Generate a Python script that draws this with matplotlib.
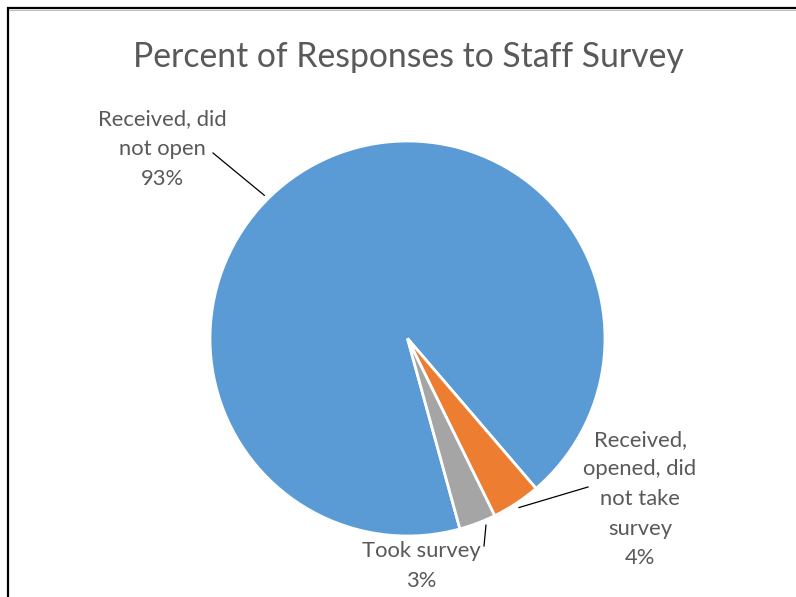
import numpy as np
import matplotlib.pyplot as plt

# Survey response shares
categories = ['Received, did\nnot open', 'Received,\nopened, did\nnot take\nsurvey', 'Took survey']
percents = [93, 4, 3]
colors = ['#5B9BD5', '#ED7D31', '#A5A5A5']

W, H = 796, 597
text_color = '#595959'
plt.rcParams['font.family'] = ['Lato', 'DejaVu Sans']

fig = plt.figure(figsize=(W / 100, H / 100), dpi=100)
ax = fig.add_axes([0, 0, 1, 1])

cx, cy, r = 407.5, H - 338.5, 197.5
wedges, _ = ax.pie(percents, colors=colors, startangle=-74.6, counterclock=False,
                   center=(cx, cy), radius=r,
                   wedgeprops=dict(edgecolor='white', linewidth=2))
ax.set_xlim(0, W)
ax.set_ylim(0, H)
ax.set_aspect('equal')
ax.axis('off')

# label block centres and where each leader line leaves the text (pixels from top-left)
label_pos = [(162, 149), (640, 499), (421, 566)]
leader_start = [(213, 153), (588, 487), (484, 546)]
anchor_shift = [17, 0, 2]   # degrees off the wedge middle where the leader lands

for w, cat, pct, (lx, ly), (sx, sy), shift in zip(wedges, categories, percents,
                                                   label_pos, leader_start, anchor_shift):
    ax.text(lx, H - ly, f'{cat}\n{pct}%', ha='center', va='center',
            fontsize=15.8, color=text_color, linespacing=1.6)
    mid = np.deg2rad((w.theta1 + w.theta2) / 2 + shift)
    ex, ey = cx + (r + 5) * np.cos(mid), cy + (r + 5) * np.sin(mid)
    ax.plot([sx, ex], [H - sy, ey], color='black', lw=0.9)

ax.text(408, H - 57, 'Percent of Responses to Staff Survey', ha='center', va='center',
        fontsize=24.3, color=text_color)

# chart frame
ax.plot([7.5, 7.5, W], [0, H - 8, H - 8], color='black', lw=1.6, solid_joinstyle='miter')
ax.plot([9, W], [H - 10, H - 10], color='#bbbbbb', lw=0.7)

fig.savefig('out.png', dpi=100)
